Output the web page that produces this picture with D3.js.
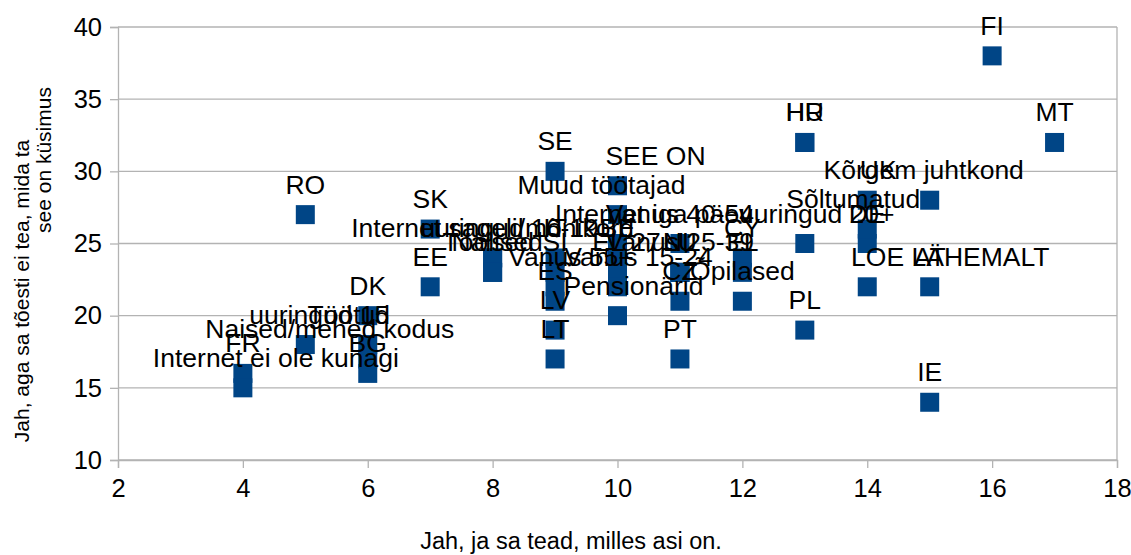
<!DOCTYPE html>
<html>
<head>
<meta charset="utf-8">
<script src="https://cdn.jsdelivr.net/npm/d3@7"></script>
<style>
  body { margin: 0; background: #fff; }
  text { font-family: "Liberation Sans", Arial, sans-serif; fill: #000; }
</style>
</head>
<body>
<div id="vis"></div>
<script>

// point labels, x = "Jah, ja sa tead...", y = "Jah, aga sa tõesti ei tea..."
var labels = ['FI', 'MT', 'HR', 'HU', 'RO', 'SE', 'SK', 'EE', 'DK', 'FR',
  'BG', 'ES', 'LV', 'LT', 'PT', 'PL', 'IE', 'CZ', 'CY', 'AT',
  'UK', 'NL', 'DE', 'BE', 'IT', 'SI', 'LU', 'EL 27', 'SEE ON', 'LOE LÄHEMALT',
  'Muud töötajad', 'Internet iga päev', 'Internet sageli/mõnikord', 'Internet ei ole kunagi',
  'Vanus 15-24', 'Vanus 25-39', 'Vanus 40-54', 'Vanus 55+',
  'uuringud 15', 'uuringud 16-19', 'uuringud 20+',
  'Sõltumatud', 'Kõrgem juhtkond', 'Töölised', 'Naised/mehed kodus', 'Töötud',
  'Pensionärid', 'Õpilased', 'Naised', 'EL'];

var xValues = [16, 17, 13, 13, 5, 9, 7, 7, 6, 4,
  6, 9, 9, 9, 11, 13, 15, 11, 12, 15,
  14, 11, 14, 10, 9, 9, 11, 10, 10, 14,
  10, 10, 8, 4,
  10, 11, 11, 9,
  5, 8, 13,
  14, 15, 8, 6, 6,
  10, 12, 8, 12];

var yValues = [38, 32, 32, 32, 27, 30, 26, 22, 20, 16,
  16, 21, 19, 17, 17, 19, 14, 21, 24, 22,
  28, 23, 25, 24, 24, 23, 23, 23, 29, 22,
  27, 25, 24, 15,
  22, 23, 25, 22,
  18, 24, 25,
  26, 28, 23, 17, 18,
  20, 21, 23, 23];

var xTicks = [2, 4, 6, 8, 10, 12, 14, 16, 18];
var yTicks = [10, 15, 20, 25, 30, 35, 40];

var xTitle = 'Jah, ja sa tead, milles asi on.';
var yTitleLines = ['Jah, aga sa tõesti ei tea, mida ta', 'see on küsimus'];

// horizontal nudges of some labels, as placed in the original
var labelShift = {
  'Internet ei ole kunagi': 33, 'Naised/mehed kodus': -38, 'uuringud 15': 14,
  'Töötud': -19, 'SEE ON': 38, 'Muud töötajad': -16, 'Internet iga päev': 36,
  'uuringud 20+': 12, 'Sõltumatud': -14, 'Kõrgem juhtkond': -6, 'UK': 11,
  'EL 27': 9, 'Vanus 15-24': 21, 'Vanus 55+': 16, 'Pensionärid': 16,
  'uuringud 16-19': 17, 'LOE LÄHEMALT': 83
};

var width = 1131;
var height = 555;
var margin = { left: 118, right: 14, top: 27, bottom: 95 };

var gridColor = '#b3b3b3';
var markerColor = '#004586';
var markerSize = 19;

var svg = d3.select('#vis')
  .append('svg')
  .attr('width', width)
  .attr('height', height);

var x = d3.scaleLinear()
  .domain([2, 18])
  .range([margin.left, width - margin.right]);

var y = d3.scaleLinear()
  .domain([10, 40])
  .range([height - margin.bottom, margin.top]);

// horizontal grid
svg.append('g')
  .selectAll('line')
  .data(yTicks)
  .enter().append('line')
  .attr('x1', x(2)).attr('x2', x(18))
  .attr('y1', function (d) { return y(d); })
  .attr('y2', function (d) { return y(d); })
  .attr('stroke', gridColor)
  .attr('stroke-width', 1.3);

// right border
svg.append('line')
  .attr('x1', x(18)).attr('x2', x(18))
  .attr('y1', y(40)).attr('y2', y(10))
  .attr('stroke', gridColor)
  .attr('stroke-width', 1.3);

var xAxis = d3.axisBottom(x).tickValues(xTicks).tickSize(8).tickPadding(11);
var yAxis = d3.axisLeft(y).tickValues(yTicks).tickSize(8).tickPadding(8);

var gx = svg.append('g')
  .attr('transform', 'translate(0,' + y(10) + ')')
  .call(xAxis);

var gy = svg.append('g')
  .attr('transform', 'translate(' + x(2) + ',0)')
  .call(yAxis);

[gx, gy].forEach(function (g) {
  g.selectAll('path, line').attr('stroke', gridColor).attr('stroke-width', 1.3);
  g.selectAll('text')
    .style('font-family', '"Liberation Sans", Arial, sans-serif')
    .style('font-size', '25.5px')
    .attr('fill', '#000');
});

// markers
var points = labels.map(function (d, i) {
  return { name: d, x: xValues[i], y: yValues[i] };
});

svg.append('g')
  .selectAll('rect')
  .data(points)
  .enter().append('rect')
  .attr('x', function (d) { return x(d.x) - markerSize / 2; })
  .attr('y', function (d) { return y(d.y) - markerSize / 2; })
  .attr('width', markerSize)
  .attr('height', markerSize)
  .attr('fill', markerColor);

// labels above the points
svg.append('g')
  .selectAll('text')
  .data(points)
  .enter().append('text')
  .attr('x', function (d) { return x(d.x) + (labelShift[d.name] || 0); })
  .attr('y', function (d) { return y(d.y) - 21; })
  .attr('text-anchor', 'middle')
  .style('font-size', '26.5px')
  .text(function (d) { return d.name; });

// axis titles
svg.append('text')
  .attr('x', 571)
  .attr('y', 549)
  .attr('text-anchor', 'middle')
  .style('font-size', '23.5px')
  .text(xTitle);

svg.append('text')
  .attr('transform', 'translate(29,291) rotate(-90)')
  .attr('text-anchor', 'middle')
  .style('font-size', '21px')
  .text(yTitleLines[0]);

svg.append('text')
  .attr('transform', 'translate(51,160) rotate(-90)')
  .attr('text-anchor', 'middle')
  .style('font-size', '21px')
  .text(yTitleLines[1]);

</script>
</body>
</html>
